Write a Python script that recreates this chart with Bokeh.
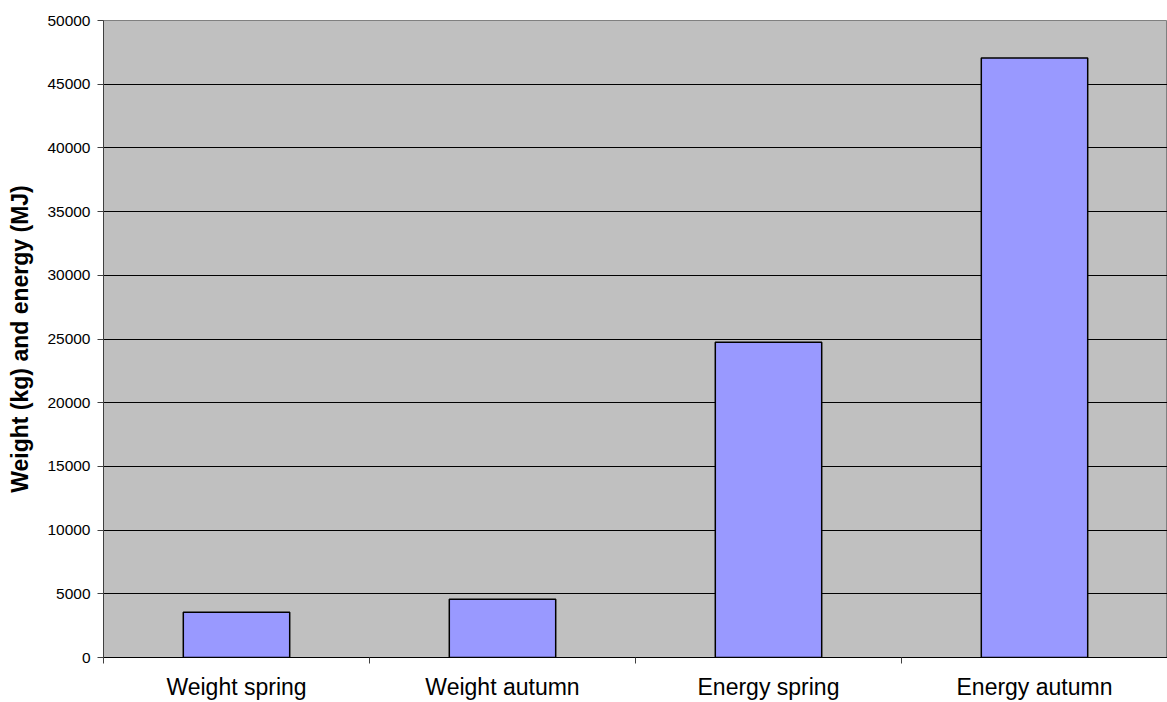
from bokeh.plotting import figure
from bokeh.models import (Range1d, FixedTicker, SingleIntervalTicker,
                          NumeralTickFormatter, ColumnDataSource)
from bokeh.embed import file_html
from bokeh.resources import INLINE

categories = ["Weight spring", "Weight autumn", "Energy spring", "Energy autumn"]
values = [3550, 4580, 24750, 47050]
y_max = 50000
y_step = 5000

FONT = "Liberation Sans"

n = len(categories)
centers = [i + 0.5 for i in range(n)]      # category slot centres on the x scale
bounds = list(range(n + 1))                 # category slot boundaries

src = ColumnDataSource(dict(x=centers, cat=categories, val=values))

p = figure(width=1167, height=702, output_backend="svg", toolbar_location=None,
           x_range=Range1d(0, n), y_range=Range1d(0, y_max),
           min_border_left=103, min_border_right=0, min_border_top=20, min_border_bottom=45)

p.background_fill_color = "#C0C0C0"
p.border_fill_color = "white"
p.outline_line_color = "#808080"
p.outline_line_width = 1

p.vbar(x="x", top="val", width=0.4, bottom=0, source=src,
       fill_color="#9999FF", line_color="black", line_width=1.5)

# y axis
ya = p.yaxis[0]
ya.ticker = SingleIntervalTicker(interval=y_step)
ya.formatter = NumeralTickFormatter(format="0")
ya.major_label_text_font = FONT
ya.major_label_text_font_size = "15.5px"
ya.major_label_text_color = "black"
ya.major_tick_out = 6
ya.major_tick_in = 0
ya.minor_tick_line_color = None
ya.major_label_standoff = 7
ya.axis_line_color = "#404040"
ya.major_tick_line_color = "#404040"
ya.axis_label = "Weight (kg) and energy (MJ)"
ya.axis_label_text_font = FONT
ya.axis_label_text_font_size = "23px"
ya.axis_label_text_font_style = "bold"
ya.axis_label_text_color = "black"
ya.axis_label_standoff = 11

p.ygrid.grid_line_color = "black"
p.ygrid.grid_line_width = 1
p.xgrid.grid_line_color = None

# x axis: labels at category centres, ticks at category boundaries
xa = p.xaxis[0]
xa.ticker = FixedTicker(ticks=centers, minor_ticks=bounds)
xa.major_label_overrides = {c: name for c, name in zip(centers, categories)}
xa.major_tick_line_color = None
xa.major_tick_out = 0
xa.major_tick_in = 0
xa.minor_tick_out = 6
xa.minor_tick_in = 0
xa.minor_tick_line_color = "#404040"
xa.axis_line_color = "black"
xa.major_label_text_font = FONT
xa.major_label_text_font_size = "23px"
xa.major_label_text_color = "black"
xa.major_label_standoff = 10

open("out.html", "w").write(file_html(p, INLINE))
